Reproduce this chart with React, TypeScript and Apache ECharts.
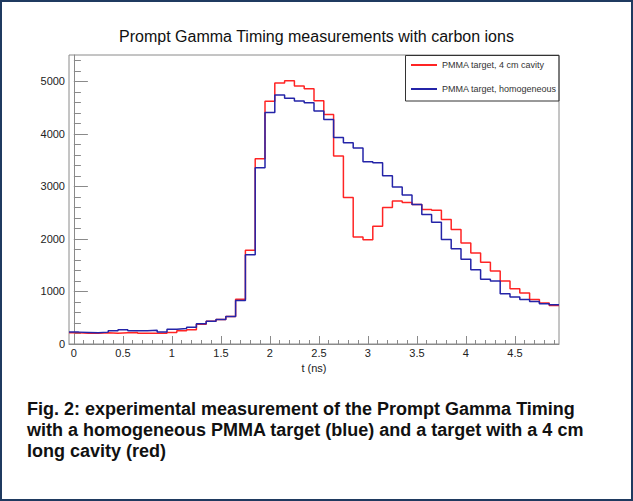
import React, { useEffect, useRef } from "react";
import * as echarts from "echarts";

const binCenters = [
  0, 0.1, 0.2, 0.3, 0.4, 0.5, 0.6, 0.7, 0.8, 0.9,
  1.0, 1.1, 1.2, 1.3, 1.4, 1.5, 1.6, 1.7, 1.8, 1.9,
  2.0, 2.1, 2.2, 2.3, 2.4, 2.5, 2.6, 2.7, 2.8, 2.9,
  3.0, 3.1, 3.2, 3.3, 3.4, 3.5, 3.6, 3.7, 3.8, 3.9,
  4.0, 4.1, 4.2, 4.3, 4.4, 4.5, 4.6, 4.7, 4.8, 4.9,
];
const binWidth = 0.1;

const cavityValues = [
  213, 206, 206, 213, 206, 213, 220, 206, 206, 206,
  220, 251, 270, 375, 435, 467, 524, 850, 1783, 3525,
  4620, 4965, 5010, 4910, 4860, 4630, 4370, 3578, 2790, 2037,
  1986, 2240, 2596, 2723, 2692, 2654, 2559, 2545, 2370, 2177,
  1923, 1732, 1554, 1389, 1198, 1052, 969, 848, 778, 734,
];
const homogeneousValues = [
  226, 220, 213, 226, 251, 270, 251, 251, 260, 226,
  283, 295, 321, 385, 435, 467, 524, 829, 1700, 3355,
  4407, 4738, 4675, 4623, 4591, 4433, 4274, 3931, 3832, 3730,
  3467, 3448, 3200, 2990, 2835, 2654, 2466, 2316, 1990, 1815,
  1611, 1414, 1230, 1198, 957, 893, 848, 810, 766, 747,
];

const seriesNames = ["PMMA target, 4 cm cavity", "PMMA target, homogeneous"];
const xTickLabels = [0, 0.5, 1, 1.5, 2, 2.5, 3, 3.5, 4, 4.5];
const yTickLabels = [0, 1000, 2000, 3000, 4000, 5000];
const titleText = "Prompt Gamma Timing measurements with carbon ions";
const captionLines = [
  "Fig. 2: experimental measurement of the Prompt Gamma Timing",
  "with a homogeneous PMMA target (blue) and a target with a 4 cm",
  "long cavity (red)",
];

const FONT = '"Liberation Sans", Arial, sans-serif';
const AXIS_GRAY = "#8a8a8a";

function toSteps(vals: number[]) {
  const pts = binCenters.map((c, i) => [c - binWidth / 2, vals[i]]);
  pts.push([binCenters[binCenters.length - 1] + binWidth / 2, vals[vals.length - 1]]);
  return pts;
}

const xMinor: number[] = [];
for (let i = 0; i < 50; i++) xMinor.push(Math.round(i * 10) / 100);
const yMinor: number[] = [];
for (let v = 0; v <= 5400; v += 200) yMinor.push(v);

export default function App() {
  const ref = useRef<HTMLDivElement>(null);
  useEffect(() => {
    if (!ref.current) return;
    const chart = echarts.init(ref.current, undefined, { renderer: "svg" });
    const option: any = {
      animation: false,
      backgroundColor: "#ffffff",
      title: {
        text: titleText,
        left: "center",
        top: 28,
        padding: 0,
        textStyle: { fontFamily: FONT, fontSize: 16, fontWeight: "normal", color: "#111" },
      },
      grid: {
        left: 69,
        right: 74,
        top: 55,
        bottom: 157,
        show: true,
        borderColor: AXIS_GRAY,
        borderWidth: 1,
        backgroundColor: "transparent",
      },
      legend: {
        data: seriesNames,
        orient: "vertical",
        left: 405,
        top: 55,
        padding: [4, 10, 6, 6],
        itemGap: 12,
        itemWidth: 26,
        itemHeight: 2,
        icon: "rect",
        textStyle: { fontFamily: FONT, fontSize: 9, color: "#333", lineHeight: 12 },
      },
      xAxis: [
        {
          type: "value",
          min: -0.05,
          max: 4.95,
          name: "t (ns)",
          nameLocation: "middle",
          nameGap: 9,
          nameTextStyle: { fontFamily: FONT, fontSize: 11, color: "#222" },
          axisLine: { lineStyle: { color: AXIS_GRAY } },
          axisTick: { inside: true, length: 8, customValues: xTickLabels, lineStyle: { color: AXIS_GRAY } },
          axisLabel: {
            customValues: xTickLabels,
            margin: 3,
            fontFamily: FONT,
            fontSize: 11,
            color: "#222",
            formatter: (v: number) => String(v),
          },
          splitLine: { show: false },
        },
        {
          type: "value",
          min: -0.05,
          max: 4.95,
          position: "bottom",
          axisLine: { show: false },
          axisTick: { inside: true, length: 4, customValues: xMinor, lineStyle: { color: AXIS_GRAY } },
          axisLabel: { show: false },
          splitLine: { show: false },
        },
      ],
      yAxis: [
        {
          type: "value",
          min: 0,
          max: 5500,
          axisLine: { show: true, lineStyle: { color: AXIS_GRAY } },
          axisTick: { show: true, inside: true, length: 14, customValues: yTickLabels, lineStyle: { color: AXIS_GRAY } },
          axisLabel: {
            customValues: yTickLabels,
            margin: 4,
            fontFamily: FONT,
            fontSize: 11,
            color: "#222",
            formatter: (v: number) => String(v),
          },
          splitLine: { show: false },
        },
        {
          type: "value",
          min: 0,
          max: 5500,
          position: "left",
          axisLine: { show: false },
          axisTick: { show: true, inside: true, length: 7, customValues: yMinor, lineStyle: { color: AXIS_GRAY } },
          axisLabel: { show: false },
          splitLine: { show: false },
        },
      ],
      series: [
        {
          name: seriesNames[0],
          type: "line",
          step: "end",
          data: toSteps(cavityValues),
          symbol: "none",
          xAxisIndex: 0,
          yAxisIndex: 0,
          lineStyle: { color: "#ff2424", width: 1.5 },
          itemStyle: { color: "#ff2424" },
        },
        {
          name: seriesNames[1],
          type: "line",
          step: "end",
          data: toSteps(homogeneousValues),
          symbol: "none",
          xAxisIndex: 0,
          yAxisIndex: 0,
          lineStyle: { color: "#2424a8", width: 1.5 },
          itemStyle: { color: "#2424a8" },
        },
      ],
      graphic: [
        {
          type: "rect",
          shape: { x: 405.5, y: 55.5, width: 153.5, height: 45.5 },
          style: { fill: "none", stroke: "#333", lineWidth: 1 },
          silent: true,
        },
        {
          type: "text",
          x: 27,
          y: 398,
          style: {
            text: captionLines.join("\n"),
            fontFamily: FONT,
            fontSize: 18,
            fontWeight: "bold",
            fill: "#111",
            lineHeight: 21,
            verticalAlign: "top",
          },
          silent: true,
        },
        {
          type: "rect",
          shape: { x: 1, y: 1, width: 631, height: 499 },
          style: { fill: "none", stroke: "#1f3a60", lineWidth: 2 },
          silent: true,
        },
      ],
    };
    chart.setOption(option);
    return () => chart.dispose();
  }, []);
  return (
    <div style={{ position: "fixed", left: 0, top: 0, width: 633, height: 501 }}>
      <div ref={ref} style={{ width: 633, height: 501 }} />
    </div>
  );
}
